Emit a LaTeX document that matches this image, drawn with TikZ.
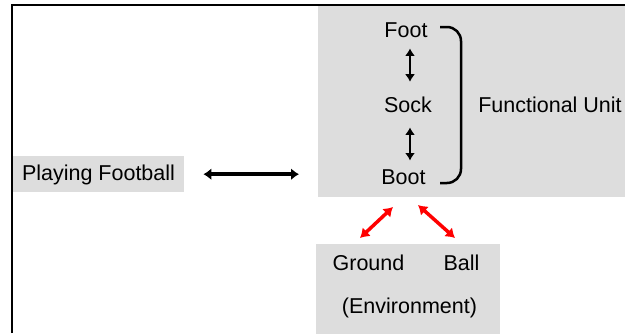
\documentclass[tikz,border=0pt]{standalone}
\usepackage{fontspec}
\setmainfont{Liberation Sans}
\usetikzlibrary{arrows.meta}
\definecolor{panel}{HTML}{DDDDDD}
\definecolor{linkred}{HTML}{FF0000}
\tikzset{
  label/.style={inner sep=0pt, anchor=base, font=\fontsize{21.5}{26}\selectfont},
  panelbox/.style={fill=panel, draw=none, inner sep=0pt},
  frameline/.style={line width=2.5pt, black},
  blackarrow/.style={line width=4pt, {Latex[length=8pt,width=12pt]}-{Latex[length=8pt,width=12pt]}},
  stackarrow/.style={line width=2.5pt, {Latex[length=7.5pt,width=10pt]}-{Latex[length=7.5pt,width=10pt]}},
  redarrow/.style={line width=3.5pt, linkred, {Latex[length=9pt,width=12pt]}-{Latex[length=9pt,width=12pt]}},
  bracket/.style={line width=2.5pt, rounded corners=14pt}
}
\begin{document}
\begin{tikzpicture}[x=1pt, y=-1pt]
  \useasboundingbox (0,0) rectangle (625,333);

  % grey panels
  \node[panelbox, minimum width=307pt, minimum height=191pt, anchor=north west] (unit) at (318,6) {};
  \node[panelbox, minimum width=184pt, minimum height=90pt, anchor=north west] (env) at (316,244) {};
  \node[panelbox, minimum width=172pt, minimum height=36pt, anchor=north west] (pfbox) at (12,156) {};

  % outer frame (top and left edges)
  \draw[frameline] (12,333) -- (12,5) -- (625,5);

  % texts
  \node[label] (pf) at (98.5,180) {Playing Football};
  \node[label] (foot) at (406,37) {Foot};
  \node[label] (sock) at (408,112) {Sock};
  \node[label] (boot) at (403.5,184) {Boot};
  \node[label] (fu) at (550,112) {Functional Unit};
  \node[label] (ground) at (368.5,270) {Ground};
  \node[label] (ball) at (461.5,270) {Ball};
  \node[label] (envtext) at (409.5,313) {(Environment)};

  % activity <-> functional unit
  \draw[blackarrow, shorten <=19pt, shorten >=19pt] (pfbox.east) -- (pfbox.east -| unit.west);

  % links inside the functional unit
  \draw[stackarrow, shorten <=11pt, shorten >=14.5pt] ([xshift=2pt]sock.north |- foot.south) -- ([xshift=2pt]sock.north);
  \draw[stackarrow, shorten <=15pt, shorten >=8.5pt] ([xshift=2pt]sock.south) -- ([xshift=2pt]sock.south |- boot.north);

  % bracket grouping Foot, Sock and Boot
  \coordinate (brtop) at (440,27);
  \coordinate (brbot) at (440,183);
  \draw[bracket] (brtop) -- (461,27) -- (461,183) -- (brbot);

  % boot <-> environment
  \coordinate (bl) at (393,207);
  \coordinate (gl) at (360,238);
  \coordinate (br) at (418,205);
  \coordinate (ba) at (455,238);
  \draw[redarrow] (bl) -- (gl);
  \draw[redarrow] (br) -- (ba);
\end{tikzpicture}
\end{document}
